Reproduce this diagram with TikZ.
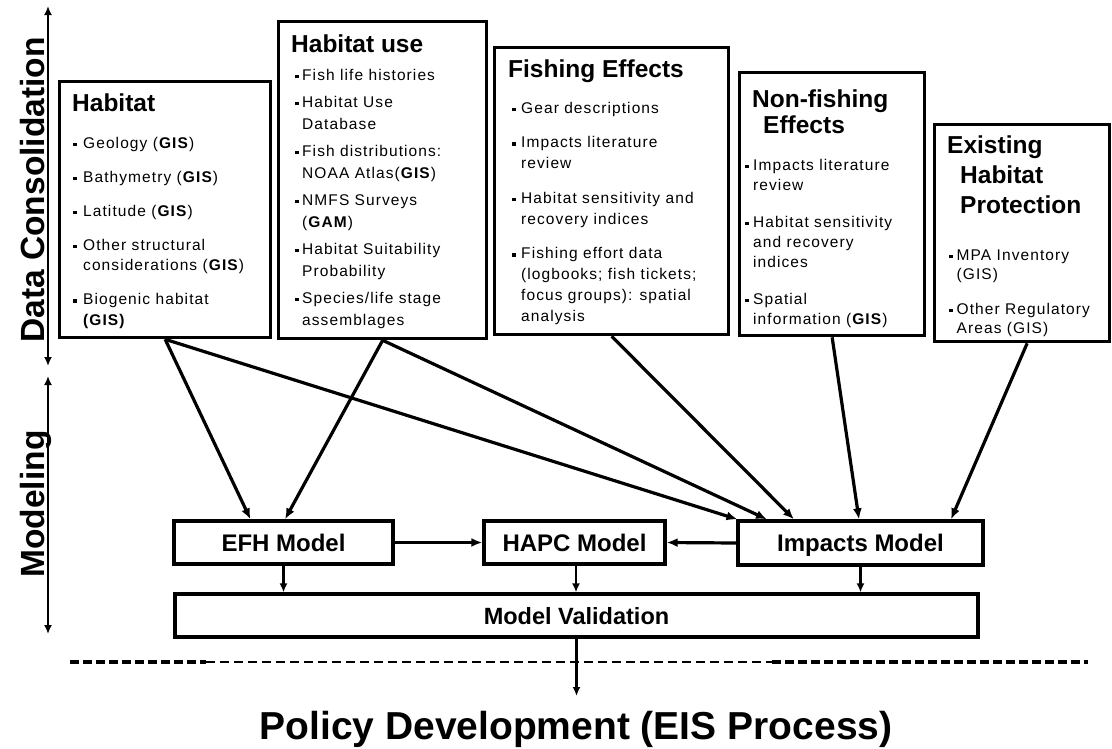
\documentclass[tikz,border=0pt]{standalone}
\usepackage{fontspec}
\setmainfont{Liberation Sans}
\newfontfamily\bodyfont[LetterSpace=7]{Liberation Sans}
\usetikzlibrary{arrows.meta,calc}
\newlength\bulw
\newcommand\bulmark{\makebox[\bulw][l]{\rule[1.8pt]{3.6pt}{3.6pt}}}
\newcommand\bulind{\hspace*{\bulw}}
\newcommand\bodytext[4]{\parbox[t]{300pt}{\bodyfont\fontsize{15.5}{#1}\selectfont\setlength\bulw{#2}\raggedright #4}}
\begin{document}
\begin{tikzpicture}[x=1pt,y=-1pt,
  box/.style={draw,line width=3.3pt,inner sep=0pt,anchor=north west},
  mbox/.style={draw,line width=3.3pt,inner sep=0pt,font=\bfseries\fontsize{24}{26}\selectfont,text height=17pt,text depth=0pt},
  head/.style={font=\bfseries\fontsize{24.5}{26}\selectfont,anchor=base west,inner sep=0pt},
  bodyn/.style={anchor=base west,inner sep=0pt},
  conn/.style={line width=3.2pt,-{Latex[length=11pt,width=9pt]}},
  thin/.style={line width=2.4pt,-{Latex[length=9pt,width=8pt]}},
  axis/.style={line width=2.4pt,{Latex[length=9pt,width=8pt]}-{Latex[length=9pt,width=8pt]}},
  axlab/.style={rotate=90,anchor=base,font=\bfseries\fontsize{33.5}{35}\selectfont,inner sep=0pt}]
\fill[white] (0,0) rectangle (1112,748);
\useasboundingbox (0,0) rectangle (1112,748);

% axes
\coordinate (a1) at (48,6);
\coordinate (a2) at (48,366);
\coordinate (a3) at (48,376);
\coordinate (a4) at (48,634);
\draw[axis] (a1) -- (a2);
\draw[axis] (a3) -- (a4);
\node[axlab] (dclab) at (44,190) {Data Consolidation};
\node[axlab] (mlab) at (44,504) {Modeling};

% upper boxes
\node[box,minimum width=211pt,minimum height=256pt] (hab) at (58,80) {};
\node[box,minimum width=208pt,minimum height=317pt] (use) at (277,20) {};
\node[box,minimum width=234pt,minimum height=287pt] (fish) at (493,46) {};
\node[box,minimum width=185pt,minimum height=263pt] (nonf) at (738,71) {};
\node[box,minimum width=175pt,minimum height=217pt] (exist) at (933,123) {};

% headings
\node[head] (habh) at (72,111) {Habitat};
\node[head] (useh) at (291,52) {Habitat use};
\node[head] (fishh) at (508,77) {Fishing Effects};
\node[head] (nonfh1) at (752,107) {Non-fishing};
\node[head] (nonfh2) at (763,133) {Effects};
\node[head] (exh1) at (947,153) {Existing};
\node[head] (exh2) at (960,183) {Habitat};
\node[head] (exh3) at (960,213) {Protection};

% body texts
\node[bodyn] (habt) at (73,148) {\bodytext{20.5pt}{10pt}{}{%
\bulmark Geology (\textbf{GIS})\\[13.5pt]
\bulmark Bathymetry (\textbf{GIS})\\[13.5pt]
\bulmark Latitude (\textbf{GIS})\\[13.5pt]
\bulmark Other structural\\
\bulind considerations (\textbf{GIS})\\[13.5pt]
\bulmark Biogenic habitat\\
\bulind \textbf{(GIS)}}};

\node[bodyn] (uset) at (295,80) {\bodytext{22pt}{7pt}{}{%
\bulmark Fish life histories\\[5pt]
\bulmark Habitat Use\\
\bulind Database\\[5pt]
\bulmark Fish distributions:\\
\bulind NOAA Atlas(\textbf{GIS})\\[5pt]
\bulmark NMFS Surveys\\
\bulind (\textbf{GAM})\\[5pt]
\bulmark Habitat Suitability\\
\bulind Probability\\[5pt]
\bulmark Species/life stage\\
\bulind assemblages}};

\node[bodyn] (fisht) at (512,113) {\bodytext{21pt}{9pt}{}{%
\bulmark Gear descriptions\\[13.5pt]
\bulmark Impacts literature\\
\bulind review\\[13.5pt]
\bulmark Habitat sensitivity and\\
\bulind recovery indices\\[13.5pt]
\bulmark Fishing effort data\\
\bulind (logbooks; fish tickets;\\
\bulind focus groups): spatial\\
\bulind analysis}};

\node[bodyn] (nonft) at (745,170) {\bodytext{20pt}{8pt}{}{%
\bulmark Impacts literature\\
\bulind review\\[17pt]
\bulmark Habitat sensitivity\\
\bulind and recovery\\
\bulind indices\\[17pt]
\bulmark Spatial\\
\bulind information (\textbf{GIS})}};

\node[bodyn] (existt) at (949,260) {\bodytext{19pt}{7.5pt}{}{%
\bulmark MPA Inventory\\
\bulind (GIS)\\[16pt]
\bulmark Other Regulatory\\
\bulind Areas (GIS)}};

% model boxes
\node[mbox,minimum width=219pt,minimum height=43pt] (efh) at (283.5,542.5) {EFH Model};
\node[mbox,minimum width=181pt,minimum height=43pt] (hapc) at (574.5,542.5) {HAPC Model};
\node[mbox,minimum width=245pt,minimum height=44pt] (imp) at (860.5,543) {Impacts Model};
\node[draw,line width=3.3pt,inner sep=0pt,font=\bfseries\fontsize{23.5}{25}\selectfont,text height=17pt,text depth=0pt,minimum width=803pt,minimum height=43pt] (mv) at (576.5,615.5) {Model Validation};

% connectors from data boxes
\draw[conn] (hab.south) -- ($(efh.north)+(-33,0)$);
\draw[conn] (use.south) -- ($(efh.north)+(1.5,0)$);
\draw[conn] (hab.south) -- ($(imp.north)+(-123,0)$);
\draw[conn] (use.south) -- ($(imp.north)+(-93.5,0)$);
\draw[conn] (fish.south) -- ($(imp.north)+(-66.5,0)$);
\draw[conn] (nonf.south) -- ($(imp.north)+(-1.5,0)$);
\draw[conn] ($(exist.south)+(5,0)$) -- ($(imp.north)+(90.5,0)$);

% model links
\draw[conn] (efh.east) -- (hapc.west);
\draw[conn] (imp.west) -- (hapc.east);
\draw[thin] (efh.south) -- (efh.south |- mv.north);
\draw[thin] ($(hapc.south)+(1.5,0)$) -- ($(hapc.south |- mv.north)+(1.5,0)$);
\draw[thin] (imp.south) -- (imp.south |- mv.north);

% dashed separator
\coordinate (dl) at (70,662);
\coordinate (dm1) at (206,662);
\coordinate (dm2) at (772,662);
\coordinate (dr) at (1088,662);
\draw[line width=3.5pt,dash pattern=on 9pt off 4pt] (dl) -- (dm1);
\draw[line width=2.4pt,dash pattern=on 9pt off 5pt] (dm1) -- (dm2);
\draw[line width=3.5pt,dash pattern=on 9pt off 4pt] (dm2) -- (dr);

% to policy
\coordinate (pend) at (576.5,696);
\draw[thin] (mv.south) -- (pend);
\node[font=\bfseries\fontsize{39}{41}\selectfont,anchor=base,inner sep=0pt] (pol) at (576,739) {Policy Development (EIS Process)};
\end{tikzpicture}
\end{document}
